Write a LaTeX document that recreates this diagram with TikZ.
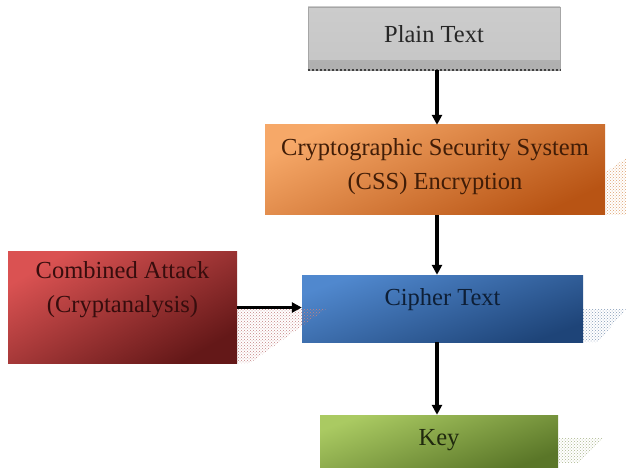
\documentclass[tikz,border=0pt]{standalone}
\usepackage{fontspec}
\setmainfont{Liberation Serif}
\usetikzlibrary{arrows.meta,patterns}
\definecolor{cssA}{HTML}{F6A868}
\definecolor{cssB}{HTML}{B85414}
\definecolor{atkA}{HTML}{DA5252}
\definecolor{atkB}{HTML}{641818}
\definecolor{ciphA}{HTML}{5088CE}
\definecolor{ciphB}{HTML}{1E4478}
\definecolor{keyA}{HTML}{AACA62}
\definecolor{keyB}{HTML}{5A7628}
\tikzset{
  box/.style={rectangle, inner sep=0pt, shade, shading=axis},
  txt/.style={font=\fontsize{24.5}{34}\selectfont, align=center, inner sep=0pt},
  arr/.style={line width=3.4pt, -{Triangle[width=10pt,length=10pt]}},
  shadowpat/.style={draw=none, pattern=crosshatch dots}
}
\begin{document}
\begin{tikzpicture}[x=1pt,y=-1pt]
\useasboundingbox[fill=white] (0,0) rectangle (626,470);

% hatched drop shadows behind the boxes
\path[shadowpat, pattern color=cssA!80!gray] (606,172) -- (626,158) -- (626,215) -- (606,215) -- cycle;
\path[shadowpat, pattern color=ciphA!50!gray!80] (583,309) -- (626,309) -- (598,342) -- (583,342) -- cycle;
\path[shadowpat, pattern color=keyA!50!gray!80] (558,438) -- (603,438) -- (578,463) -- (558,463) -- cycle;

% boxes
\node[box, minimum width=252pt, minimum height=63pt, draw=gray!70, line width=0.6pt,
      top color=gray!40, middle color=gray!6, bottom color=gray!45] (plain) at (434,38.5) {};
\fill[gray!75, opacity=0.55] ([yshift=10pt]plain.south west) rectangle (plain.south east);
\draw[gray!50!black, line width=2pt, dotted] (plain.south west) -- (plain.south east);
\node[box, minimum width=340pt, minimum height=90pt,
      top color=cssA, bottom color=cssB, shading angle=25] (css) at (435,170) {};
\node[box, minimum width=229pt, minimum height=111pt,
      top color=atkA, bottom color=atkB, shading angle=30] (atk) at (122.5,307.5) {};
\node[box, minimum width=281pt, minimum height=67pt,
      top color=ciphA, bottom color=ciphB, shading angle=20] (ciph) at (442.5,308.5) {};
\node[box, minimum width=238pt, minimum height=52pt,
      top color=keyA, bottom color=keyB, shading angle=20] (key) at (439,441) {};

% shadow of the attack box falls across the cipher box edge
\path[shadowpat, pattern color=atkA!60!gray!80] (237,309) -- (326,309) -- (250,363) -- (237,363) -- cycle;

% labels
\node[txt, text=black!85] (tplain) at (434,34) {Plain Text};
\node[txt, text=cssB!35!black] (tcss) at (435,167) {Cryptographic Security System\\(CSS) Encryption};
\node[txt, text=atkB!55!black] (tatk) at (122.5,290) {Combined Attack\\(Cryptanalysis)};
\node[txt, text=ciphB!45!black] (tciph) at (442.5,300) {Cipher Text};
\node[txt, text=keyB!35!black] (tkey) at (439,440) {Key};

% connectors
\coordinate (axis) at (437,0);
\draw[arr] (plain.south -| axis) -- (css.north -| axis);
\draw[arr] (css.south -| axis) -- (ciph.north -| axis);
\draw[arr] (ciph.south -| axis) -- (key.north -| axis);
\draw[arr] (atk.east) -- (ciph.west |- atk.east);
\end{tikzpicture}
\end{document}
